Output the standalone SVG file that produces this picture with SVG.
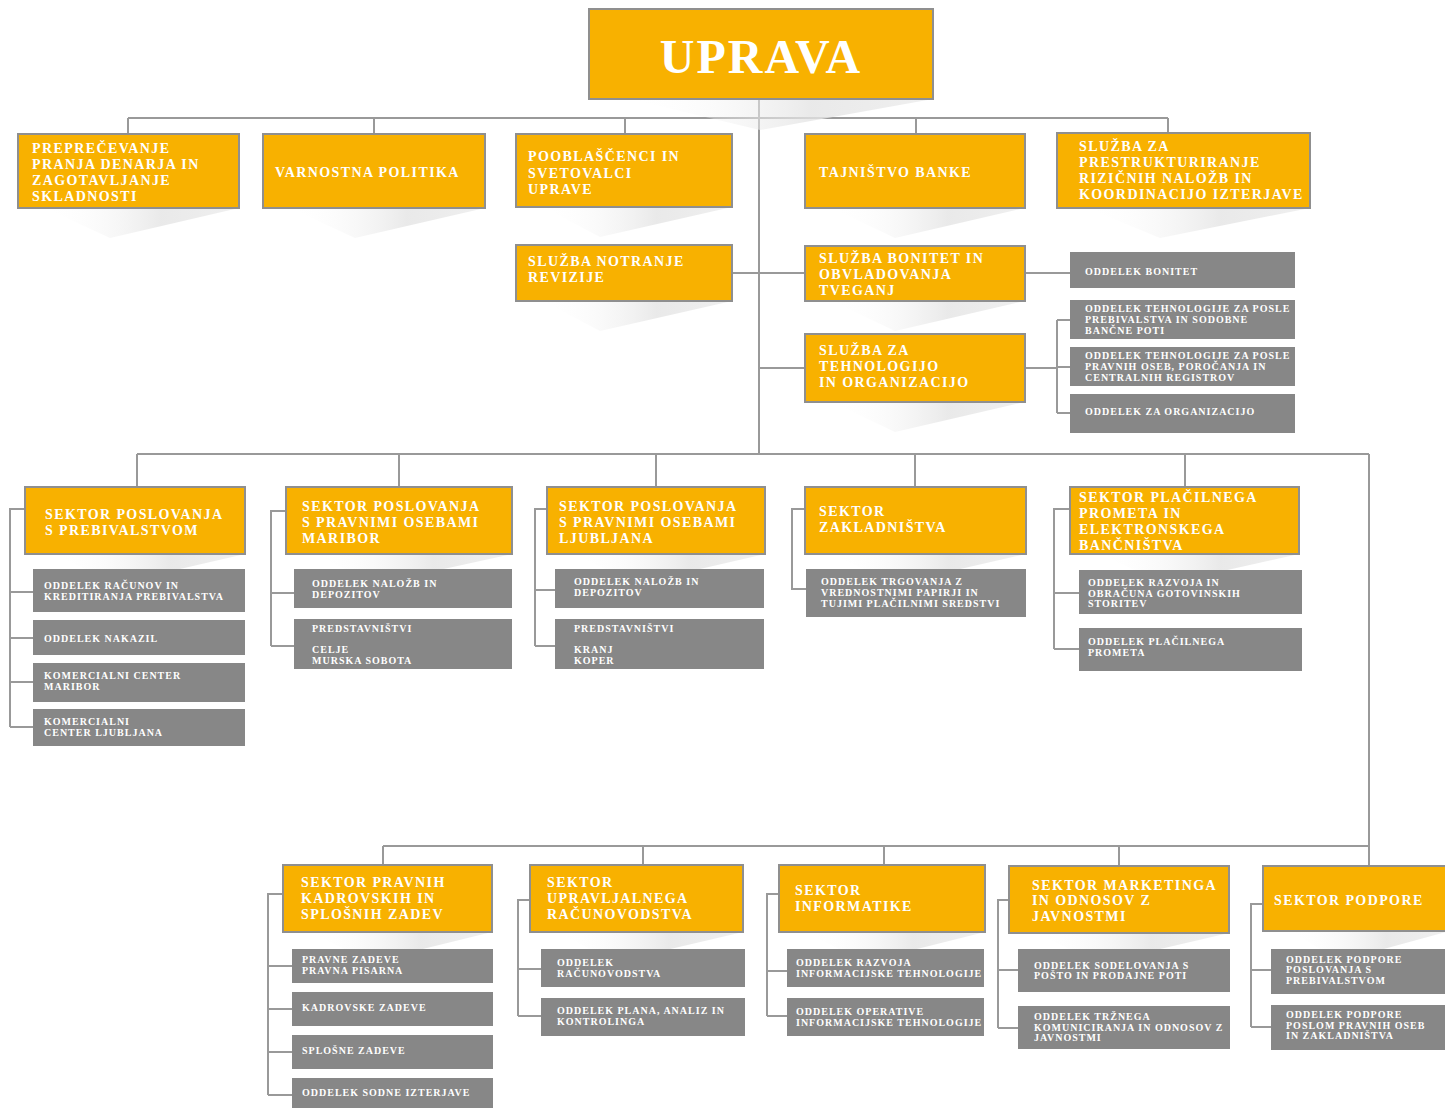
<svg xmlns="http://www.w3.org/2000/svg" width="1445" height="1108" viewBox="0 0 1445 1108">
<defs>
<linearGradient id="shg" x1="0" y1="0" x2="1" y2="0">
<stop offset="0" stop-color="#ffffff" stop-opacity="0"/>
<stop offset="0.6" stop-color="#e4e4e4" stop-opacity="0.8"/>
<stop offset="1" stop-color="#eeeeee" stop-opacity="0.9"/>
</linearGradient>
<style>
.ob{fill:#F8B100;stroke:#8f8f8f;stroke-width:2}
.gb{fill:#878787}
.sh{fill:url(#shg)}
.ot{font-family:"Liberation Serif","Times New Roman",serif;font-weight:bold;font-size:14px;letter-spacing:1.4px;fill:#ffffff}
.gt{font-family:"Liberation Serif","Times New Roman",serif;font-weight:bold;font-size:10px;letter-spacing:1px;fill:#ffffff}
.big{font-family:"Liberation Serif","Times New Roman",serif;font-weight:bold;font-size:48px;letter-spacing:2px;fill:#ffffff}
.cn{fill:none;stroke:#999999;stroke-width:2}
</style>
</defs>
<rect width="1445" height="1108" fill="#ffffff"/>

<g id="connectors" class="cn">
<path d="M759 99V454"/>
<path d="M128 118H1168M128 118V134M374 118V134M625 118V134M916 118V134M1168 118V133"/>
<path d="M732 273H805M1025 273H1070"/>
<path d="M759 368H805M1025 368H1057M1057 320V413M1057 320H1070M1057 367H1070M1057 413H1070"/>
<path d="M137 454H1369M137 454V487M399 454V487M656 454V487M915 454V487M1185 454V487"/>
<path d="M1369 454V866M383 846H1369M383 846V865M643 846V865M884 846V865M1119 846V866"/>
<path d="M25 509H10V727M10 592H33M10 638H33M10 682H33M10 727H33"/>
<path d="M286 511H271V646M271 593H294M271 646H294"/>
<path d="M547 509H535V646M535 590H555M535 646H555"/>
<path d="M805 509H792V589H806"/>
<path d="M1070 509H1054V649M1054 593H1079M1054 649H1079"/>
<path d="M283 894H268V1095M268 966H292M268 1009H292M268 1052H292M268 1095H292"/>
<path d="M530 900H518V1016M518 969H541M518 1016H541"/>
<path d="M779 894H767V1016M767 971H787M767 1016H787"/>
<path d="M1009 900H998V1028M998 970H1018M998 1028H1018"/>
<path d="M1263 904H1251V1027M1251 970H1271M1251 1027H1271"/>
</g>

<g id="uprava"><polygon class="sh" points="630,99 933,99 760,130"/><rect class="ob" x="589" y="9" width="344" height="90"/><text class="big" x="761" y="73" text-anchor="middle">UPRAVA</text></g>

<g id="n1"><polygon class="sh" points="45,208 239,208 110,238"/><rect class="ob" x="18" y="134" width="221" height="74"/><text class="ot"><tspan x="32" y="153">PREPREČEVANJE</tspan><tspan x="32" y="169">PRANJA DENARJA IN</tspan><tspan x="32" y="185">ZAGOTAVLJANJE</tspan><tspan x="32" y="201">SKLADNOSTI</tspan></text></g>
<g id="n2"><polygon class="sh" points="290,208 485,208 355,238"/><rect class="ob" x="263" y="134" width="222" height="74"/><text class="ot" x="275" y="177">VARNOSTNA POLITIKA</text></g>
<g id="n3"><polygon class="sh" points="543,207 732,207 600,237"/><rect class="ob" x="516" y="134" width="216" height="73"/><text class="ot"><tspan x="528" y="161">POOBLAŠČENCI IN</tspan><tspan x="528" y="178">SVETOVALCI</tspan><tspan x="528" y="194">UPRAVE</tspan></text></g>
<g id="n4"><polygon class="sh" points="832,208 1025,208 895,238"/><rect class="ob" x="805" y="134" width="220" height="74"/><text class="ot" x="819" y="177">TAJNIŠTVO BANKE</text></g>
<g id="n5"><polygon class="sh" points="1087,208 1310,208 1160,238"/><rect class="ob" x="1057" y="133" width="253" height="75"/><text class="ot"><tspan x="1079" y="151">SLUŽBA ZA</tspan><tspan x="1079" y="167">PRESTRUKTURIRANJE</tspan><tspan x="1079" y="183">RIZIČNIH NALOŽB IN</tspan><tspan x="1079" y="199">KOORDINACIJO IZTERJAVE</tspan></text></g>
<g id="n6"><polygon class="sh" points="543,301 732,301 600,331"/><rect class="ob" x="516" y="245" width="216" height="56"/><text class="ot"><tspan x="528" y="266">SLUŽBA NOTRANJE</tspan><tspan x="528" y="282">REVIZIJE</tspan></text></g>
<g id="n7"><polygon class="sh" points="832,301 1025,301 895,331"/><rect class="ob" x="805" y="246" width="220" height="55"/><text class="ot"><tspan x="819" y="263">SLUŽBA BONITET IN</tspan><tspan x="819" y="279">OBVLADOVANJA</tspan><tspan x="819" y="295">TVEGANJ</tspan></text></g>
<g id="n8"><polygon class="sh" points="832,402 1025,402 895,432"/><rect class="ob" x="805" y="334" width="220" height="68"/><text class="ot"><tspan x="819" y="355">SLUŽBA ZA</tspan><tspan x="819" y="371">TEHNOLOGIJO</tspan><tspan x="819" y="387">IN ORGANIZACIJO</tspan></text></g>

<g id="g_bonitet"><rect class="gb" x="1070" y="252" width="225" height="36"/><text class="gt" x="1085" y="275">ODDELEK BONITET</text></g>
<g id="g_teh1"><rect class="gb" x="1070" y="300" width="225" height="39"/><text class="gt"><tspan x="1085" y="312">ODDELEK TEHNOLOGIJE ZA POSLE</tspan><tspan x="1085" y="323">PREBIVALSTVA IN SODOBNE</tspan><tspan x="1085" y="334">BANČNE POTI</tspan></text></g>
<g id="g_teh2"><rect class="gb" x="1070" y="347" width="225" height="39"/><text class="gt"><tspan x="1085" y="359">ODDELEK TEHNOLOGIJE ZA POSLE</tspan><tspan x="1085" y="370">PRAVNIH OSEB, POROČANJA IN</tspan><tspan x="1085" y="381">CENTRALNIH REGISTROV</tspan></text></g>
<g id="g_org"><rect class="gb" x="1070" y="394" width="225" height="39"/><text class="gt" x="1085" y="415">ODDELEK ZA ORGANIZACIJO</text></g>

<g id="s1"><polygon class="sh" points="55,554 245,554 115,584"/><rect class="ob" x="25" y="487" width="220" height="67"/><text class="ot"><tspan x="45" y="519">SEKTOR POSLOVANJA</tspan><tspan x="45" y="535">S PREBIVALSTVOM</tspan></text></g>
<g id="s1c1"><rect class="gb" x="33" y="569" width="212" height="43"/><text class="gt"><tspan x="44" y="589">ODDELEK RAČUNOV IN</tspan><tspan x="44" y="600">KREDITIRANJA PREBIVALSTVA</tspan></text></g>
<g id="s1c2"><rect class="gb" x="33" y="620" width="212" height="35"/><text class="gt" x="44" y="642">ODDELEK NAKAZIL</text></g>
<g id="s1c3"><rect class="gb" x="33" y="663" width="212" height="39"/><text class="gt"><tspan x="44" y="679">KOMERCIALNI CENTER</tspan><tspan x="44" y="690">MARIBOR</tspan></text></g>
<g id="s1c4"><rect class="gb" x="33" y="709" width="212" height="37"/><text class="gt"><tspan x="44" y="725">KOMERCIALNI</tspan><tspan x="44" y="736">CENTER LJUBLJANA</tspan></text></g>

<g id="s2"><polygon class="sh" points="315,554 512,554 375,584"/><rect class="ob" x="286" y="487" width="226" height="67"/><text class="ot"><tspan x="302" y="511">SEKTOR POSLOVANJA</tspan><tspan x="302" y="527">S PRAVNIMI OSEBAMI</tspan><tspan x="302" y="543">MARIBOR</tspan></text></g>
<g id="s2c1"><rect class="gb" x="294" y="569" width="218" height="39"/><text class="gt"><tspan x="312" y="587">ODDELEK NALOŽB IN</tspan><tspan x="312" y="598">DEPOZITOV</tspan></text></g>
<g id="s2c2"><rect class="gb" x="294" y="619" width="218" height="50"/><text class="gt"><tspan x="312" y="632">PREDSTAVNIŠTVI</tspan><tspan x="312" y="653">CELJE</tspan><tspan x="312" y="664">MURSKA SOBOTA</tspan></text></g>

<g id="s3"><polygon class="sh" points="575,554 765,554 635,584"/><rect class="ob" x="547" y="487" width="218" height="67"/><text class="ot"><tspan x="559" y="511">SEKTOR POSLOVANJA</tspan><tspan x="559" y="527">S PRAVNIMI OSEBAMI</tspan><tspan x="559" y="543">LJUBLJANA</tspan></text></g>
<g id="s3c1"><rect class="gb" x="555" y="569" width="209" height="39"/><text class="gt"><tspan x="574" y="585">ODDELEK NALOŽB IN</tspan><tspan x="574" y="596">DEPOZITOV</tspan></text></g>
<g id="s3c2"><rect class="gb" x="555" y="619" width="209" height="50"/><text class="gt"><tspan x="574" y="632">PREDSTAVNIŠTVI</tspan><tspan x="574" y="653">KRANJ</tspan><tspan x="574" y="664">KOPER</tspan></text></g>

<g id="s4"><polygon class="sh" points="832,554 1026,554 895,584"/><rect class="ob" x="805" y="487" width="221" height="67"/><text class="ot"><tspan x="819" y="516">SEKTOR</tspan><tspan x="819" y="532">ZAKLADNIŠTVA</tspan></text></g>
<g id="s4c1"><rect class="gb" x="806" y="569" width="220" height="48"/><text class="gt"><tspan x="821" y="585">ODDELEK TRGOVANJA Z</tspan><tspan x="821" y="596">VREDNOSTNIMI PAPIRJI IN</tspan><tspan x="821" y="607">TUJIMI PLAČILNIMI SREDSTVI</tspan></text></g>

<g id="s5"><polygon class="sh" points="1100,554 1299,554 1165,584"/><rect class="ob" x="1070" y="487" width="229" height="67"/><text class="ot"><tspan x="1079" y="502">SEKTOR PLAČILNEGA</tspan><tspan x="1079" y="518">PROMETA IN</tspan><tspan x="1079" y="534">ELEKTRONSKEGA</tspan><tspan x="1079" y="550">BANČNIŠTVA</tspan></text></g>
<g id="s5c1"><rect class="gb" x="1079" y="570" width="223" height="44"/><text class="gt"><tspan x="1088" y="586">ODDELEK RAZVOJA IN</tspan><tspan x="1088" y="597">OBRAČUNA GOTOVINSKIH</tspan><tspan x="1088" y="607">STORITEV</tspan></text></g>
<g id="s5c2"><rect class="gb" x="1079" y="628" width="223" height="43"/><text class="gt"><tspan x="1088" y="645">ODDELEK PLAČILNEGA</tspan><tspan x="1088" y="656">PROMETA</tspan></text></g>

<g id="b1"><polygon class="sh" points="310,932 492,932 370,962"/><rect class="ob" x="283" y="865" width="209" height="67"/><text class="ot"><tspan x="301" y="887">SEKTOR PRAVNIH</tspan><tspan x="301" y="903">KADROVSKIH IN</tspan><tspan x="301" y="919">SPLOŠNIH ZADEV</tspan></text></g>
<g id="b1c1"><rect class="gb" x="292" y="949" width="201" height="34"/><text class="gt"><tspan x="302" y="963">PRAVNE  ZADEVE</tspan><tspan x="302" y="974">PRAVNA PISARNA</tspan></text></g>
<g id="b1c2"><rect class="gb" x="292" y="992" width="201" height="34"/><text class="gt" x="302" y="1011">KADROVSKE ZADEVE</text></g>
<g id="b1c3"><rect class="gb" x="292" y="1035" width="201" height="34"/><text class="gt" x="302" y="1054">SPLOŠNE ZADEVE</text></g>
<g id="b1c4"><rect class="gb" x="292" y="1078" width="201" height="30"/><text class="gt" x="302" y="1096">ODDELEK SODNE IZTERJAVE</text></g>

<g id="b2"><polygon class="sh" points="557,932 743,932 615,962"/><rect class="ob" x="530" y="865" width="213" height="67"/><text class="ot"><tspan x="547" y="887">SEKTOR</tspan><tspan x="547" y="903">UPRAVLJALNEGA</tspan><tspan x="547" y="919">RAČUNOVODSTVA</tspan></text></g>
<g id="b2c1"><rect class="gb" x="541" y="949" width="204" height="38"/><text class="gt"><tspan x="557" y="966">ODDELEK</tspan><tspan x="557" y="977">RAČUNOVODSTVA</tspan></text></g>
<g id="b2c2"><rect class="gb" x="541" y="998" width="204" height="38"/><text class="gt"><tspan x="557" y="1014">ODDELEK  PLANA, ANALIZ IN</tspan><tspan x="557" y="1025">KONTROLINGA</tspan></text></g>

<g id="b3"><polygon class="sh" points="805,932 985,932 865,962"/><rect class="ob" x="779" y="865" width="206" height="67"/><text class="ot"><tspan x="795" y="895">SEKTOR</tspan><tspan x="795" y="911">INFORMATIKE</tspan></text></g>
<g id="b3c1"><rect class="gb" x="787" y="949" width="197" height="38"/><text class="gt"><tspan x="796" y="966">ODDELEK RAZVOJA</tspan><tspan x="796" y="977">INFORMACIJSKE TEHNOLOGIJE</tspan></text></g>
<g id="b3c2"><rect class="gb" x="787" y="998" width="197" height="38"/><text class="gt"><tspan x="796" y="1015">ODDELEK OPERATIVE</tspan><tspan x="796" y="1026">INFORMACIJSKE TEHNOLOGIJE</tspan></text></g>

<g id="b4"><polygon class="sh" points="1035,933 1229,933 1100,963"/><rect class="ob" x="1009" y="866" width="220" height="67"/><text class="ot"><tspan x="1032" y="890">SEKTOR MARKETINGA</tspan><tspan x="1032" y="905">IN ODNOSOV Z</tspan><tspan x="1032" y="921">JAVNOSTMI</tspan></text></g>
<g id="b4c1"><rect class="gb" x="1018" y="949" width="212" height="43"/><text class="gt"><tspan x="1034" y="969">ODDELEK SODELOVANJA S</tspan><tspan x="1034" y="979">POŠTO IN PRODAJNE POTI</tspan></text></g>
<g id="b4c2"><rect class="gb" x="1018" y="1006" width="212" height="43"/><text class="gt"><tspan x="1034" y="1020">ODDELEK TRŽNEGA</tspan><tspan x="1034" y="1031">KOMUNICIRANJA IN ODNOSOV Z</tspan><tspan x="1034" y="1041">JAVNOSTMI</tspan></text></g>

<g id="b5"><polygon class="sh" points="1290,931 1450,931 1340,961"/><rect class="ob" x="1263" y="866" width="190" height="65"/><text class="ot" x="1274" y="905">SEKTOR PODPORE</text></g>
<g id="b5c1"><rect class="gb" x="1271" y="949" width="180" height="45"/><text class="gt"><tspan x="1286" y="963">ODDELEK PODPORE</tspan><tspan x="1286" y="973">POSLOVANJA S</tspan><tspan x="1286" y="984">PREBIVALSTVOM</tspan></text></g>
<g id="b5c2"><rect class="gb" x="1271" y="1005" width="180" height="45"/><text class="gt"><tspan x="1286" y="1018">ODDELEK PODPORE</tspan><tspan x="1286" y="1029">POSLOM PRAVNIH OSEB</tspan><tspan x="1286" y="1039">IN ZAKLADNIŠTVA</tspan></text></g>
</svg>
